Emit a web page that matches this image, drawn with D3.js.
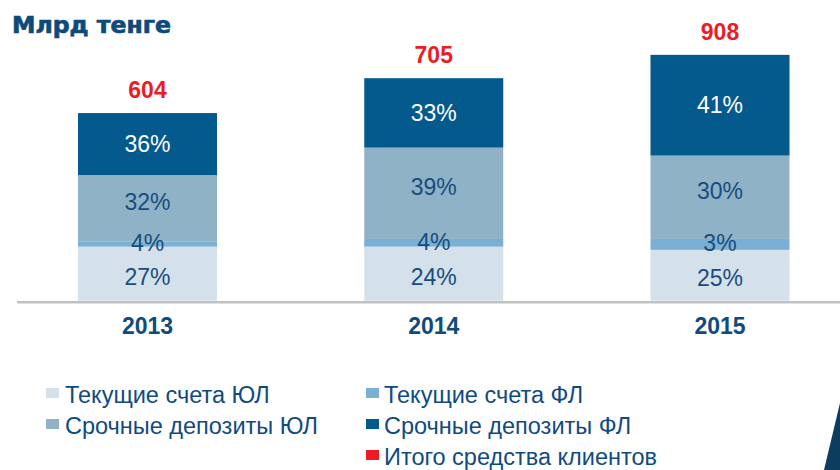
<!DOCTYPE html>
<html>
<head>
<meta charset="utf-8">
<script src="https://cdn.jsdelivr.net/npm/d3@7"></script>
<style>
  body { margin: 0; background: #fff; }
  text { font-family: "Liberation Sans", Arial, sans-serif; }
</style>
</head>
<body>
<div id="chart"></div>
<script>
// categories
const years = ["2013", "2014", "2015"];
// totals shown above bars (bn tenge)
const totals = [604, 705, 908];

// segment values (bn tenge, approx)
const currentUL = [183, 183, 172];   // Текущие счета ЮЛ
const currentFL = [18, 26, 37];      // Текущие счета ФЛ
const termUL = [224, 309, 282];      // Срочные депозиты ЮЛ
const termFL = [210, 235, 341];      // Срочные депозиты ФЛ

// share labels printed in the segments
const pctCurrentUL = ["27%", "24%", "25%"];
const pctCurrentFL = ["4%", "4%", "3%"];
const pctTermUL = ["32%", "39%", "30%"];
const pctTermFL = ["36%", "33%", "41%"];

const seriesKeys = ["currentUL", "currentFL", "termUL", "termFL"];
const seriesNames = {
	currentUL: "Текущие счета ЮЛ",
	currentFL: "Текущие счета ФЛ",
	termUL: "Срочные депозиты ЮЛ",
	termFL: "Срочные депозиты ФЛ"
};
const totalName = "Итого средства клиентов";

const colors = {
	currentUL: "#d4e1ea",
	currentFL: "#7bb0d5",
	termUL: "#8fb2c7",
	termFL: "#055a8d",
	total: "#ed1c24"
};
const pctColor = { currentUL: "#174d7e", currentFL: "#174d7e", termUL: "#174d7e", termFL: "#ffffff" };
const pctDy = { currentUL: 3, currentFL: -1, termUL: -6, termFL: 0 };
const navy = "#0f4b7e";

// build table for the stack
const table = years.map((y, i) => ({
	year: y,
	currentUL: currentUL[i],
	currentFL: currentFL[i],
	termUL: termUL[i],
	termFL: termFL[i],
	labels: {
		currentUL: pctCurrentUL[i],
		currentFL: pctCurrentFL[i],
		termUL: pctTermUL[i],
		termFL: pctTermFL[i]
	},
	total: totals[i]
}));

const width = 840, height = 470;
const plot = {left: 78, right: 789.5, top: 5.2, bottom: 300.7};

const svg = d3.select("#chart").append("svg")
	.attr("width", width)
	.attr("height", height);

// title
svg.append("text")
	.attr("x", 12)
	.attr("y", 33)
	.style("font-family", "'DejaVu Sans', sans-serif")
	.style("font-weight", "bold")
	.style("font-size", "23px")
	.attr("textLength", 159)
	.attr("lengthAdjust", "spacingAndGlyphs")
	.attr("fill", "#0d4a7c")
	.attr("stroke", "#0d4a7c")
	.attr("stroke-width", 0.7)
	.text("Млрд тенге");

// scales
const x = d3.scaleBand()
	.domain(years)
	.range([plot.left, plot.right])
	.paddingInner(0.5144)
	.paddingOuter(0);

const y = d3.scaleLinear()
	.domain([0, 1000])
	.range([plot.bottom, plot.top]);

const stacked = d3.stack().keys(seriesKeys)(table);

// bars
const layers = svg.selectAll(".layer")
	.data(stacked)
	.enter().append("g")
	.attr("class", "layer")
	.attr("fill", d => colors[d.key]);

layers.selectAll("rect")
	.data(d => d)
	.enter().append("rect")
	.attr("x", d => x(d.data.year))
	.attr("y", d => y(d[1]))
	.attr("width", x.bandwidth())
	.attr("height", d => y(d[0]) - y(d[1]));

// share labels
stacked.forEach(layer => {
	svg.append("g").selectAll("text")
		.data(layer)
		.enter().append("text")
		.attr("x", d => x(d.data.year) + x.bandwidth() / 2)
		.attr("y", d => (y(d[0]) + y(d[1])) / 2 + pctDy[layer.key])
		.attr("dy", "0.35em")
		.attr("text-anchor", "middle")
		.style("font-size", "23px")
		.attr("fill", pctColor[layer.key])
		.text(d => d.data.labels[layer.key]);
});

// totals above bars
const topOf = d => y(d3.sum(seriesKeys, k => d[k]));
svg.append("g").selectAll("text")
	.data(table)
	.enter().append("text")
	.attr("x", d => x(d.year) + x.bandwidth() / 2)
	.attr("y", d => topOf(d) - 15)
	.attr("text-anchor", "middle")
	.style("font-size", "23px")
	.style("font-weight", "bold")
	.attr("fill", colors.total)
	.text(d => d.total);

// baseline
svg.append("line")
	.attr("x1", 17)
	.attr("x2", width)
	.attr("y1", plot.bottom + 1.5)
	.attr("y2", plot.bottom + 1.5)
	.attr("stroke", "#c0c2c2")
	.attr("stroke-width", 2.6);

// x axis labels
const xAxis = d3.axisBottom(x).tickSize(0).tickPadding(0);
const gx = svg.append("g")
	.attr("transform", `translate(0,${plot.bottom})`)
	.call(xAxis);
gx.select(".domain").remove();
gx.selectAll("text")
	.attr("y", 33)
	.attr("dy", 0)
	.style("font-family", "'Liberation Sans', Arial, sans-serif")
	.style("font-size", "23px")
	.style("font-weight", "bold")
	.attr("fill", navy);

// legend
const legendItems = [
	{name: seriesNames.currentUL, color: colors.currentUL, col: 0, row: 0},
	{name: seriesNames.termUL, color: colors.termUL, col: 0, row: 1},
	{name: seriesNames.currentFL, color: colors.currentFL, col: 1, row: 0},
	{name: seriesNames.termFL, color: colors.termFL, col: 1, row: 1},
	{name: totalName, color: colors.total, col: 1, row: 2}
];
const legendCols = [46, 366];

const legend = svg.append("g").selectAll("g")
	.data(legendItems)
	.enter().append("g")
	.attr("transform", d => `translate(${legendCols[d.col]},${403 + d.row * 31})`);

legend.append("rect")
	.attr("x", 0)
	.attr("y", -15)
	.attr("width", 13)
	.attr("height", 10)
	.attr("fill", d => d.color);

legend.append("text")
	.attr("x", d => d.col === 0 ? 19 : 18)
	.attr("y", 0)
	.style("font-size", "23.5px")
	.attr("fill", navy)
	.text(d => d.name);

// slide corner decoration
svg.append("path")
	.attr("d", "M840,403 L824,470 L840,470 Z")
	.attr("fill", "#0a3d5e");
</script>
</body>
</html>
